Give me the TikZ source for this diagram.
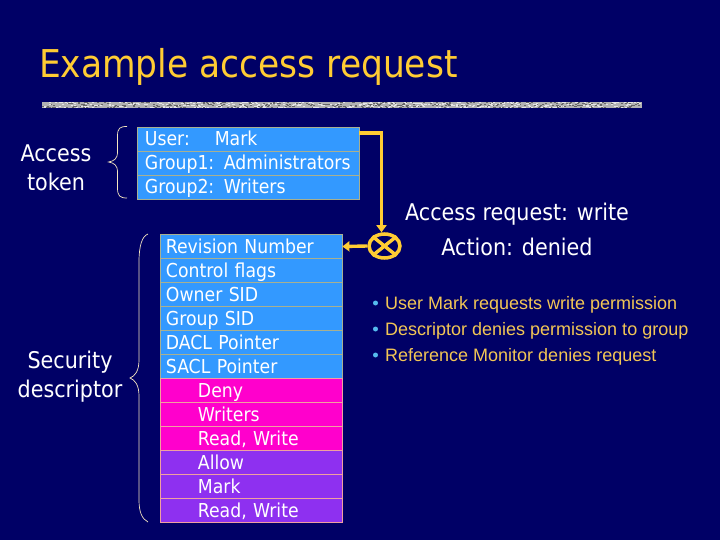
\documentclass[tikz,border=0pt]{standalone}
\usepackage{fontspec}
\setmainfont{DejaVu Sans Condensed}
\newfontfamily\arialf{Liberation Sans}
\usetikzlibrary{arrows.meta,shapes.geometric,calc}
\definecolor{bgnavy}{HTML}{000066}
\definecolor{gold}{HTML}{FFCC33}
\definecolor{rowblue}{HTML}{3399FF}
\definecolor{rowmag}{HTML}{FF00CC}
\definecolor{rowpur}{HTML}{8E30F0}
\definecolor{edgeol}{HTML}{A8B090}
\definecolor{edgepk}{HTML}{F0A0A0}
\definecolor{bracec}{HTML}{F5E6C0}
\definecolor{bulc}{HTML}{55BBEE}
\definecolor{bultxt}{HTML}{F2C655}
\tikzset{
  x=1pt,y=-1pt,
  rowbase/.style={draw,line width=0.9pt,anchor=west,minimum height=24pt,inner sep=0pt,text=white,align=left,font=\fontsize{19.2}{22}\selectfont,text height=16pt,text depth=2pt},
  tokrow/.style={rowbase,fill=rowblue,draw=edgeol,minimum width=222pt,text width=216pt},
  descrow/.style={rowbase,fill=rowblue,draw=edgeol,minimum width=182pt,text width=176pt},
  denyrow/.style={rowbase,fill=rowmag,draw=edgepk,minimum width=182pt,text width=176pt},
  allowrow/.style={rowbase,fill=rowpur,draw=edgepk,minimum width=182pt,text width=176pt},
  side/.style={text=white,align=center,font=\fontsize{23}{29}\selectfont,inner sep=0pt},
  wire/.style={draw=gold,line width=3.4pt},
  wirearrow/.style={wire,-{Triangle[length=7pt,width=10pt]}},
  curly/.style={draw=bracec,line width=0.7pt},
  bul/.style={anchor=base west,text=bultxt,font=\arialf\fontsize{18}{20}\selectfont,inner sep=0pt},
  buldot/.style={circle,fill=bulc,minimum size=5pt,inner sep=0pt},
  result/.style={text=white,font=\fontsize{23}{28}\selectfont,inner sep=0pt,anchor=base},
}
\begin{document}
\begin{tikzpicture}
\useasboundingbox (0,0) rectangle (720,540);
\fill[bgnavy] (0,0) rectangle (720,540);
% title
\node[anchor=base west,text=gold,font=\fontsize{38.3}{44}\selectfont,inner sep=0pt] (title) at (39,78) {Example access request};
% textured rule
\fill[black!30!white] (42,102) rectangle (642,108);
\pgfmathsetseed{7}
\foreach \i in {1,...,800}{
  \pgfmathsetmacro{\px}{42+random(0,597)}
  \pgfmathsetmacro{\py}{102+random(0,5)}
  \pgfmathsetmacro{\sh}{random(0,1)*50+10}
  \fill[black!\sh!white] (\px,\py) rectangle +(2,1);
}
% token rows
\node[tokrow] (u)  at (136.5,139) {\hspace*{5pt}User:\hspace{25pt}Mark};
\node[tokrow] (g1) at (136.5,163) {\hspace*{5pt}Group1: Administrators};
\node[tokrow] (g2) at (136.5,187) {\hspace*{5pt}Group2: Writers};
% descriptor rows
\node[descrow] (d1) at (159.5,246.5) {\hspace*{3pt}Revision Number};
\node[descrow] (d2) at (159.5,270.5) {\hspace*{3pt}Control flags};
\node[descrow] (d3) at (159.5,294.5) {\hspace*{3pt}Owner SID};
\node[descrow] (d4) at (159.5,318.5) {\hspace*{3pt}Group SID};
\node[descrow] (d5) at (159.5,342.5) {\hspace*{3pt}DACL Pointer};
\node[descrow] (d6) at (159.5,366.5) {\hspace*{3pt}SACL Pointer};
\node[denyrow] (d7) at (159.5,390.5) {\hspace*{35pt}Deny};
\node[denyrow] (d8) at (159.5,414.5) {\hspace*{35pt}Writers};
\node[denyrow] (d9) at (159.5,438.5) {\hspace*{35pt}Read, Write};
\node[allowrow] (d10) at (159.5,462.5) {\hspace*{35pt}Allow};
\node[allowrow] (d11) at (159.5,486.5) {\hspace*{35pt}Mark};
\node[allowrow] (d12) at (159.5,510.5) {\hspace*{35pt}Read, Write};
% side labels
\node[side] (lt) at (56,167.5) {Access\\token};
\node[side] (ls) at (70,376.5) {Security\\descriptor};
% braces
\draw[curly] (127,126.5) .. controls (120,126.5) and (117.5,128) .. (117.5,136) -- (117.5,152) .. controls (117.5,159) and (114,161) .. (108.5,162) .. controls (114,163) and (117.5,165) .. (117.5,172) -- (117.5,188) .. controls (117.5,196) and (120,198) .. (127,198);
\draw[curly] (148,234) .. controls (142,236) and (139,246) .. (139,262) -- (139,360) .. controls (139,371) and (135,376) .. (130,378) .. controls (135,380) and (139,385) .. (139,396) -- (139,500) .. controls (139,512) and (142,519) .. (148,522);
% gate
\node[draw=gold,line width=3.5pt,ellipse,minimum width=31pt,minimum height=24pt,inner sep=0pt] (gate) at (384.5,246) {};
\draw[wire] (gate.north west) -- (gate.south east);
\draw[wire] (gate.north east) -- (gate.south west);
% connectors
\coordinate (entry) at ($(gate.north)+(-3,0)$);
\coordinate (start) at ($(u.east)+(0,-6)$);
\draw[wirearrow,line join=miter] (start) -- (start -| entry) -- (entry);
\draw[wirearrow] (gate.west) -- (d1.east);
% right texts
\node[result] (ar) at (517,221) {Access request: write};
\node[result] (ad) at (517,255.5) {Action: denied};
% bullets
\node[buldot] (b1) at (375.5,303) {};
\node[buldot] (b2) at (375.5,329) {};
\node[buldot] (b3) at (375.5,355) {};
\node[bul] (t1) at (385,309) {User Mark requests write permission};
\node[bul] (t2) at (385,335) {Descriptor denies permission to group};
\node[bul] (t3) at (385,361) {Reference Monitor denies request};
\end{tikzpicture}
\end{document}
